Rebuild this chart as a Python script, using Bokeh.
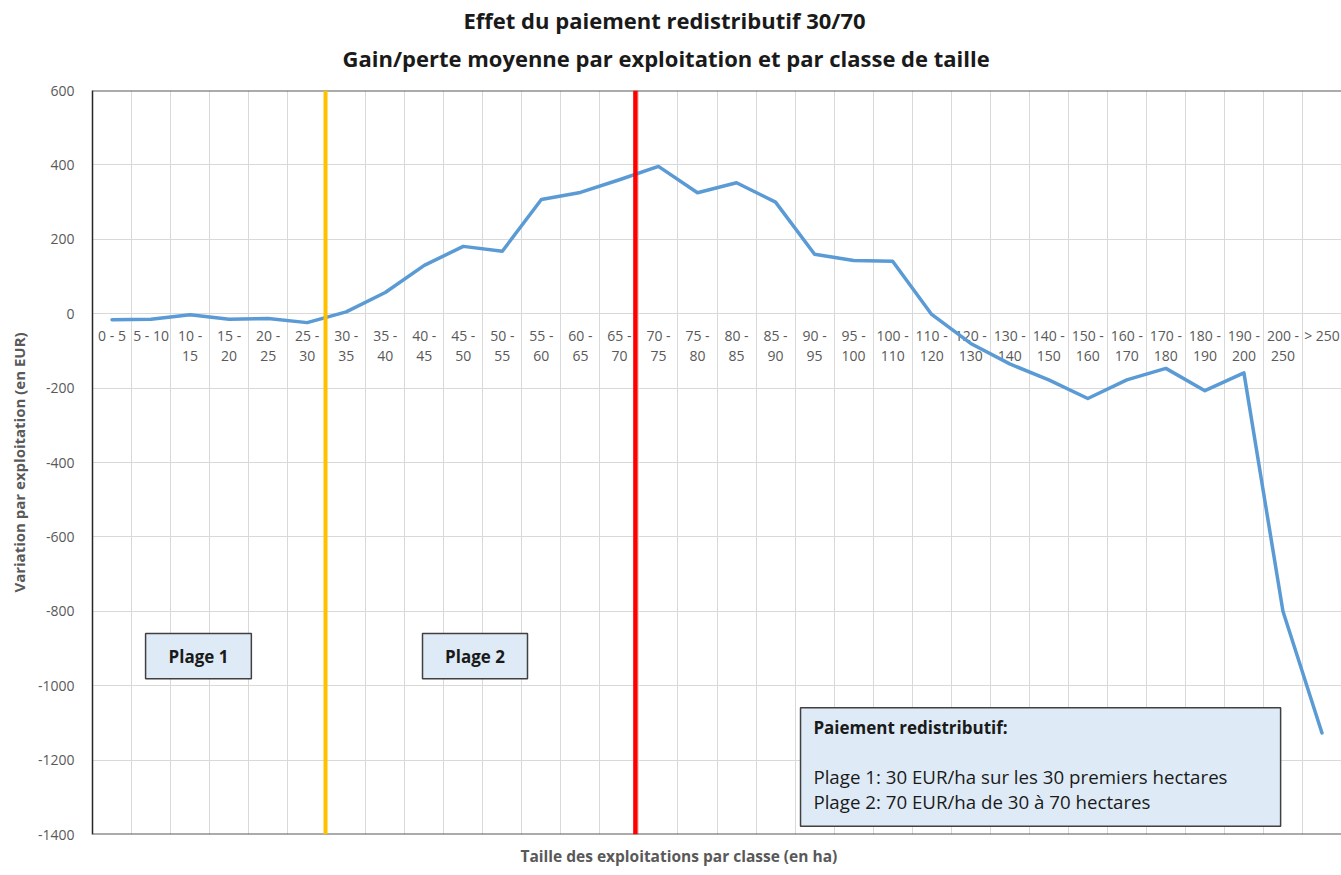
from bokeh.plotting import figure
from bokeh.models import Range1d, FixedTicker, Span, BoxAnnotation, Label, Title
from bokeh.embed import file_html
from bokeh.resources import INLINE
from bokeh.core.properties import value

# Farm size classes (ha) and average gain/loss per farm (EUR)
classes = [
    "0 - 5", "5 - 10", "10 - 15", "15 - 20", "20 - 25", "25 - 30",
    "30 - 35", "35 - 40", "40 - 45", "45 - 50", "50 - 55", "55 - 60",
    "60 - 65", "65 - 70", "70 - 75", "75 - 80", "80 - 85", "85 - 90",
    "90 - 95", "95 - 100", "100 - 110", "110 - 120", "120 - 130",
    "130 - 140", "140 - 150", "150 - 160", "160 - 170", "170 - 180",
    "180 - 190", "190 - 200", "200 - 250", "> 250",
]
variation = [
    -16, -15, -3, -15, -13, -24,
    5, 57, 130, 181, 168, 307,
    326, 360, 396, 325, 352, 300,
    160, 143, 141, -2, -80,
    -135, -178, -228, -178, -147,
    -207, -159, -800, -1127,
]
y_ticks = list(range(-1400, 601, 200))

# Upper limits of the two payment ranges, on the class axis
plage1_end = 5.97
plage2_end = 13.91

GRAY = "#595959"
DARK = "#1A1A1A"
FONT = "Open Sans"

n = len(classes)
xs = [i + 0.5 for i in range(n)]
# long class names wrap onto two lines
tick_text = [c if len(c) <= 6 else c.replace(" - ", " -\n") for c in classes]

p = figure(
    width=1341, height=875,
    x_range=Range1d(0, n), y_range=Range1d(-1400, 600),
    output_backend="svg", toolbar_location=None,
    min_border_left=92, min_border_right=0,
    min_border_top=90, min_border_bottom=40,
)
p.title.visible = False
p.outline_line_color = None
p.background_fill_color = "white"
p.border_fill_color = "white"

# grid
p.xgrid.ticker = FixedTicker(ticks=list(range(n + 1)))
p.ygrid.ticker = FixedTicker(ticks=y_ticks)
for g in (p.xgrid, p.ygrid):
    g.grid_line_color = "#D9D9D9"
    g.grid_line_width = 1

# axes
p.xaxis.visible = False
ya = p.yaxis[0]
ya.ticker = FixedTicker(ticks=y_ticks)
ya.major_label_overrides = {t: str(t) for t in y_ticks}
ya.major_tick_line_color = None
ya.minor_tick_line_color = None
ya.axis_line_color = "#262626"
ya.axis_line_width = 1.5
ya.major_label_standoff = 12
ya.major_label_text_color = GRAY
ya.major_label_text_font = FONT
ya.major_label_text_font_size = "14px"
ya.axis_label = "Variation par exploitation (en EUR)"
ya.axis_label_text_font = FONT
ya.axis_label_text_font_size = "15px"
ya.axis_label_text_font_style = "bold"
ya.axis_label_text_color = GRAY
ya.axis_label_standoff = 6

# plot area top / bottom borders
for loc in (600, -1400):
    p.add_layout(Span(location=loc, dimension="width", line_color=GRAY, line_width=2))

# class labels sit under the zero line
p.text(x=xs, y=[0] * n, text=tick_text, text_align="center", text_baseline="top",
       y_offset=12, text_font=value(FONT), text_font_size="14px",
       text_color=GRAY, text_line_height=1.05)

# the series
p.line(xs, variation, line_color="#5B9BD5", line_width=3.5,
       line_join="round", line_cap="round")

# range limits
p.add_layout(Span(location=plage1_end, dimension="height", line_color="#FFC000", line_width=4))
p.add_layout(Span(location=plage2_end, dimension="height", line_color="#FF0000", line_width=4.5))

# text boxes
BOX_FILL = "#DEEBF7"
BOX_LINE = "#404040"


def text_box(left, right, top, bottom):
    p.add_layout(BoxAnnotation(left=left, right=right, top=top, bottom=bottom,
                               fill_color=BOX_FILL, fill_alpha=1,
                               line_color=BOX_LINE, line_width=1.5, line_alpha=1))


def label(x, y, text, size, bold=False, align="left", color=DARK):
    p.add_layout(Label(x=x, y=y, text=text, text_align=align,
                       text_baseline="middle", text_font=FONT,
                       text_font_size=size,
                       text_font_style="bold" if bold else "normal",
                       text_color=color))


text_box(1.36, 4.07, -860, -981)
text_box(8.455, 11.145, -860, -981)
text_box(18.14, 30.44, -1059, -1378)

label(2.715, -920.5, "Plage 1", "17px", bold=True, align="center")
label(9.8, -920.5, "Plage 2", "17px", bold=True, align="center")

label(18.47, -1113, "Paiement redistributif:", "17px", bold=True)
label(18.47, -1244, "Plage 1: 30 EUR/ha sur les 30 premiers hectares", "18.7px")
label(18.47, -1311, "Plage 2: 70 EUR/ha de 30 à 70 hectares", "18.7px")


# titles: stacked outward from the plot area
def title(text, place, offset, size, standoff, color=DARK):
    p.add_layout(Title(text=text, align="left", offset=offset, text_font=FONT,
                       text_font_size=size, text_font_style="bold",
                       text_color=color, standoff=standoff), place)


title(" ", "above", 0, "1px", 9)
title("Gain/perte moyenne par exploitation et par classe de taille", "above", 250, "22px", 12)
title("Effet du paiement redistributif 30/70", "above", 371, "22px", 0)
title("Taille des exploitations par classe (en ha)", "below", 428, "15.5px", 17, color=GRAY)

open("out.html", "w").write(file_html(p, INLINE))
